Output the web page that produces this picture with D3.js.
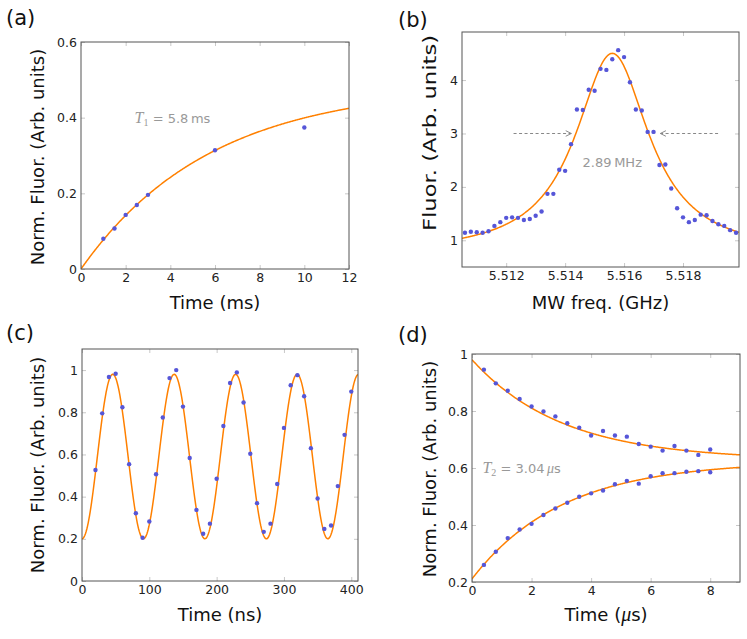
<!DOCTYPE html>
<html>
<head>
<meta charset="utf-8">
<script src="https://cdn.jsdelivr.net/npm/d3@7"></script>
<style>
  body { margin: 0; background: #fff; }
  svg { display: block; font-family: "DejaVu Sans", sans-serif; }
</style>
</head>
<body>
<svg id="chart" width="747" height="639"></svg>
<script>
// (a) T1 relaxation
var t1Time = [1, 1.5, 2, 2.5, 3, 6, 10];
var t1Fluor = [0.080, 0.107, 0.143, 0.169, 0.196, 0.314, 0.374];
var t1Fit = { amp: 0.486, tau: 5.8 };

// (b) ODMR spectrum
var odmrFreq = [5.5106, 5.5108, 5.5110, 5.5112, 5.5114, 5.5116, 5.5118, 5.5120, 5.5122, 5.5124,
  5.5126, 5.5128, 5.5130, 5.5132, 5.5134, 5.5136, 5.5138, 5.5140, 5.5142, 5.5144,
  5.5146, 5.5148, 5.5150, 5.5152, 5.5154, 5.5156, 5.5158, 5.5160, 5.5162, 5.5164,
  5.5166, 5.5168, 5.5170, 5.5172, 5.5174, 5.5176, 5.5178, 5.5180, 5.5182, 5.5184,
  5.5186, 5.5188, 5.5190, 5.5192, 5.5194, 5.5196, 5.5198];
var odmrFluor = [1.14, 1.16, 1.15, 1.14, 1.17, 1.27, 1.34, 1.42, 1.43, 1.42,
  1.38, 1.40, 1.46, 1.54, 1.87, 1.87, 2.32, 2.30, 2.80, 3.45,
  3.44, 3.82, 3.80, 4.21, 4.19, 4.39, 4.56, 4.43, 3.96, 3.45,
  3.43, 3.03, 3.03, 2.41, 2.42, 1.97, 1.60, 1.43, 1.34, 1.38,
  1.48, 1.47, 1.36, 1.30, 1.27, 1.19, 1.14];
var odmrFit = { base: 0.73, amp: 3.77, center: 5.5156, hwhm: 0.00152 };

// (c) Rabi oscillation
var rabiTime = [20, 30, 40, 50, 60, 70, 80, 90, 100, 110, 120, 130, 140, 150, 160, 170, 180, 190, 200,
  210, 220, 230, 240, 250, 260, 270, 280, 290, 300, 310, 320, 330, 340, 350, 360, 370, 380, 390, 400];
var rabiFluor = [0.526, 0.795, 0.967, 0.983, 0.824, 0.554, 0.321, 0.205, 0.282, 0.506,
  0.775, 0.962, 1.0, 0.827, 0.583, 0.337, 0.224, 0.272, 0.485,
  0.735, 0.939, 0.989, 0.846, 0.603, 0.369, 0.233, 0.272, 0.46, 0.726, 0.928,
  0.976, 0.876, 0.63, 0.391, 0.247, 0.263, 0.45, 0.693, 0.898];
var rabiFit = { mean: 0.59, amp: 0.39, period: 91.3 };

// (d) T2 decay, two projections
var t2Time = [0.4, 0.8, 1.2, 1.6, 2.0, 2.4, 2.8, 3.2, 3.6, 4.0, 4.4, 4.8, 5.2, 5.6, 6.0, 6.4, 6.8, 7.2, 7.6, 8.0];
var t2Upper = [0.945, 0.897, 0.871, 0.842, 0.816, 0.798, 0.781, 0.757, 0.741, 0.714,
  0.730, 0.714, 0.710, 0.684, 0.675, 0.661, 0.677, 0.661, 0.646, 0.665];
var t2Lower = [0.260, 0.306, 0.354, 0.384, 0.404, 0.435, 0.458, 0.478, 0.499, 0.511,
  0.521, 0.543, 0.555, 0.545, 0.571, 0.582, 0.582, 0.587, 0.589, 0.585];
var t2FitUpper = { offset: 0.628, amp: 0.352, tau: 3.04 };
var t2FitLower = { offset: 0.6235, amp: -0.4125, tau: 3.04 };

var orange = '#ff8000', dotColor = '#5656d8', gray = '#999';
var svg = d3.select('#chart');

svg.append('defs').append('marker')
  .attr('id', 'arrow')
  .attr('viewBox', '0 0 10 10')
  .attr('refX', 9).attr('refY', 5)
  .attr('markerWidth', 7).attr('markerHeight', 7)
  .attr('orient', 'auto-start-reverse')
  .attr('markerUnits', 'userSpaceOnUse')
  .append('path')
  .attr('d', 'M1,1 L9,5 L1,9')
  .attr('fill', 'none')
  .attr('stroke', '#888')
  .attr('stroke-width', 1.4);

function fmt(d) { return String(+d.toFixed(4)); }

function panel(opt) {
  var x = d3.scaleLinear().domain(opt.xDomain).range([opt.left, opt.right]);
  var y = d3.scaleLinear().domain(opt.yDomain).range([opt.bottom, opt.top]);
  var g = svg.append('g');
  var clipId = 'clip-' + opt.name;
  svg.select('defs').append('clipPath').attr('id', clipId)
    .append('rect')
    .attr('x', opt.left).attr('y', opt.top)
    .attr('width', opt.right - opt.left).attr('height', opt.bottom - opt.top);

  var axes = [
    { a: d3.axisBottom(x).tickValues(opt.xTicks).tickFormat(fmt), t: 'translate(0,' + opt.bottom + ')' },
    { a: d3.axisTop(x).tickValues(opt.xTicks).tickFormat(''), t: 'translate(0,' + opt.top + ')' },
    { a: d3.axisLeft(y).tickValues(opt.yTicks).tickFormat(fmt), t: 'translate(' + opt.left + ',0)' },
    { a: d3.axisRight(y).tickValues(opt.yTicks).tickFormat(''), t: 'translate(' + opt.right + ',0)' }
  ];
  axes.forEach(function(ax) {
    var ag = g.append('g')
      .attr('transform', ax.t)
      .call(ax.a.tickSizeInner(-4).tickSizeOuter(0).tickPadding(4));
    ag.select('.domain').remove();
    ag.selectAll('line').attr('stroke', '#c8c8c8');
    ag.selectAll('text')
      .attr('fill', '#222')
      .style('font-family', '"DejaVu Sans", sans-serif')
      .style('font-size', '12.5px');
  });

  var plot = g.append('g').attr('clip-path', 'url(#' + clipId + ')');
  (opt.fits || []).forEach(function(f) {
    var xs = d3.range(0, 401).map(function(i) {
      return opt.xDomain[0] + (opt.xDomain[1] - opt.xDomain[0]) * i / 400;
    });
    plot.append('path')
      .datum(xs)
      .attr('fill', 'none')
      .attr('stroke', orange)
      .attr('stroke-width', 1.5)
      .attr('d', d3.line().x(function(d) { return x(d); }).y(function(d) { return y(f(d)); }));
  });
  (opt.series || []).forEach(function(s) {
    plot.selectAll(null)
      .data(s.xs)
      .enter()
      .append('circle')
      .attr('cx', function(d) { return x(d); })
      .attr('cy', function(d, i) { return y(s.ys[i]); })
      .attr('r', 2.2)
      .attr('fill', dotColor);
  });

  g.append('rect')
    .attr('x', opt.left).attr('y', opt.top)
    .attr('width', opt.right - opt.left).attr('height', opt.bottom - opt.top)
    .attr('fill', 'none')
    .attr('stroke', '#555')
    .attr('stroke-width', 1);

  var xl = g.append('text')
    .attr('x', (opt.left + opt.right) / 2)
    .attr('y', opt.xLabelY)
    .attr('text-anchor', 'middle')
    .style('font-size', '18px')
    .attr('fill', '#111');
  opt.xLabel(xl);

  var yl = g.append('text')
    .attr('transform', 'translate(' + opt.yLabelX + ',' + opt.yLabelCY + ') rotate(-90)')
    .attr('dy', '0.35em')
    .attr('text-anchor', 'middle')
    .style('font-size', '18px')
    .attr('fill', '#111')
    .text(opt.yLabel);
  if (opt.yLabelLength) {
    yl.attr('textLength', opt.yLabelLength).attr('lengthAdjust', 'spacingAndGlyphs');
  }

  g.append('text')
    .attr('x', opt.tagX).attr('y', opt.tagY)
    .style('font-size', '21px')
    .attr('fill', '#111')
    .text(opt.tag);

  return { g: g, x: x, y: y };
}

function plainLabel(s) { return function(t) { t.text(s); }; }

function mathT(t, sub, rest) {
  t.append('tspan').text('T')
    .style('font-family', '"Liberation Serif", serif')
    .style('font-style', 'italic')
    .style('font-size', '16px');
  t.append('tspan').text(sub)
    .attr('dy', 3)
    .style('font-family', '"Liberation Serif", serif')
    .style('font-size', '10px');
  t.append('tspan').text(rest).attr('dy', -3);
}

// (a)
var pa = panel({
  name: 'a', tag: '(a)', tagX: 6, tagY: 25,
  left: 81, right: 349, top: 42, bottom: 269,
  xDomain: [0, 12], yDomain: [0, 0.6],
  xTicks: [0, 2, 4, 6, 8, 10, 12], yTicks: [0, 0.2, 0.4, 0.6],
  xLabel: plainLabel('Time (ms)'), xLabelY: 309,
  yLabel: 'Norm. Fluor. (Arb. units)', yLabelX: 38, yLabelCY: 157,
  fits: [function(t) { return t1Fit.amp * (1 - Math.exp(-t / t1Fit.tau)); }],
  series: [{ xs: t1Time, ys: t1Fluor }]
});
var ta = pa.g.append('text')
  .attr('x', pa.x(2.4)).attr('y', pa.y(0.4) + 5)
  .style('font-size', '13px')
  .attr('fill', gray);
mathT(ta, '1', ' = 5.8\u2009ms');

// (b)
var pb = panel({
  name: 'b', tag: '(b)', tagX: 398, tagY: 27,
  left: 462, right: 739, top: 32, bottom: 267,
  xDomain: [5.5105, 5.5199], yDomain: [0.5, 4.9],
  xTicks: [5.512, 5.514, 5.516, 5.518], yTicks: [1, 2, 3, 4],
  xLabel: plainLabel('MW freq. (GHz)'), xLabelY: 309,
  yLabel: 'Fluor. (Arb. units)', yLabelX: 430, yLabelCY: 133, yLabelLength: 196,
  fits: [function(f) {
    var r = (f - odmrFit.center) / odmrFit.hwhm;
    return odmrFit.base + odmrFit.amp / (1 + r * r);
  }],
  series: [{ xs: odmrFreq, ys: odmrFluor }]
});
[[5.51225, 5.51421], [5.51919, 5.51723]].forEach(function(a) {
  pb.g.append('line')
    .attr('x1', pb.x(a[0])).attr('x2', pb.x(a[1]))
    .attr('y1', pb.y(3)).attr('y2', pb.y(3))
    .attr('stroke', '#888')
    .attr('stroke-width', 1.2)
    .attr('stroke-dasharray', '3,2.5')
    .attr('marker-end', 'url(#arrow)');
});
pb.g.append('text')
  .attr('x', pb.x(5.5156)).attr('y', pb.y(2.38))
  .attr('text-anchor', 'middle')
  .style('font-size', '13px')
  .attr('fill', gray)
  .text('2.89\u2009MHz');

// (c)
panel({
  name: 'c', tag: '(c)', tagX: 6, tagY: 340,
  left: 82, right: 358, top: 349, bottom: 581,
  xDomain: [0, 410], yDomain: [0, 1.1],
  xTicks: [0, 100, 200, 300, 400], yTicks: [0, 0.2, 0.4, 0.6, 0.8, 1],
  xLabel: plainLabel('Time (ns)'), xLabelY: 621,
  yLabel: 'Norm. Fluor. (Arb. units)', yLabelX: 38, yLabelCY: 465,
  fits: [function(t) { return rabiFit.mean - rabiFit.amp * Math.cos(2 * Math.PI * t / rabiFit.period); }],
  series: [{ xs: rabiTime, ys: rabiFluor }]
});

// (d)
var pd = panel({
  name: 'd', tag: '(d)', tagX: 398, tagY: 342,
  left: 472, right: 740, top: 354, bottom: 582,
  xDomain: [0, 9], yDomain: [0.2, 1],
  xTicks: [0, 2, 4, 6, 8], yTicks: [0.2, 0.4, 0.6, 0.8, 1],
  xLabel: function(t) {
    t.append('tspan').text('Time (');
    t.append('tspan').text('\u03bc')
      .style('font-family', '"Liberation Serif", serif')
      .style('font-style', 'italic')
      .style('font-size', '20px');
    t.append('tspan').text('s)');
  },
  xLabelY: 621,
  yLabel: 'Norm. Fluor. (Arb. units)', yLabelX: 430, yLabelCY: 469,
  fits: [
    function(t) { return t2FitUpper.offset + t2FitUpper.amp * Math.exp(-t / t2FitUpper.tau); },
    function(t) { return t2FitLower.offset + t2FitLower.amp * Math.exp(-t / t2FitLower.tau); }
  ],
  series: [{ xs: t2Time, ys: t2Upper }, { xs: t2Time, ys: t2Lower }]
});
var td = pd.g.append('text')
  .attr('x', pd.x(0.35)).attr('y', pd.y(0.6) + 5)
  .style('font-size', '13px')
  .attr('fill', gray);
mathT(td, '2', ' = 3.04\u2009');
td.append('tspan').text('\u03bc')
  .style('font-family', '"Liberation Serif", serif')
  .style('font-style', 'italic')
  .style('font-size', '14px');
td.append('tspan').text('s');
</script>
</body>
</html>
